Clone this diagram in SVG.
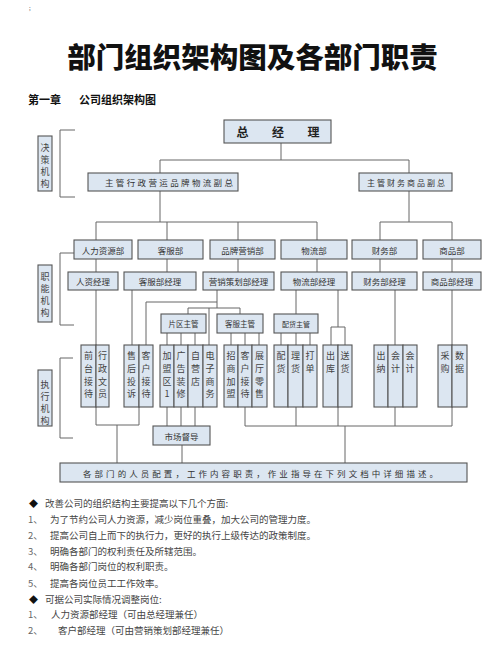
<svg xmlns="http://www.w3.org/2000/svg" width="500" height="652" viewBox="0 0 500 652">
<style>
text{font-family:"Noto Sans CJK SC","Noto Sans",sans-serif;}
.box{fill:#dce6f1;stroke:#555;stroke-width:1.1;}
.ln{fill:none;stroke:#666;stroke-width:1;}
.bt{font-size:8.5px;fill:#333;text-anchor:middle;dominant-baseline:central;}
.st{font-size:7.5px;fill:#333;text-anchor:middle;dominant-baseline:central;}
.vt{font-size:9px;fill:#444;text-anchor:middle;dominant-baseline:central;}
.lt{font-size:9.5px;fill:#444;dominant-baseline:central;}
.num{font-size:9.5px;fill:#666;dominant-baseline:central;}
.dia{font-size:9px;fill:#111;dominant-baseline:central;}
</style>
<rect width="500" height="652" fill="#fff"/>
<text x="29" y="10" font-size="6" fill="#555">;</text>
<text x="252.5" y="68" font-size="28.5" font-weight="900" fill="#111" text-anchor="middle">部门组织架构图及各部门职责</text>
<text x="28" y="104" font-size="11" font-weight="bold" fill="#111">第一章</text>
<text x="79" y="104" font-size="11" font-weight="bold" fill="#111">公司组织架构图</text>

<g id="connectors">
<path class="ln" d="M281 143V160M160 160H409M160 160V173M409 160V173"/>
<path class="ln" d="M160 191V222M96 222H317M96 222V240M167 222V240M238 222V240M317 222V240"/>
<path class="ln" d="M409 191V222M380 222H452M380 222V240M452 222V240"/>
<path class="ln" d="M96 259V272M167 259V272M238 259V272M317 259V272M380 259V272M452 259V272"/>
<path class="ln" d="M96 290V345M132 290V345"/>
<path class="ln" d="M217 290V308M217 302H146V345M188 308H240M188 308V314M240 308V314M209 308V345"/>
<path class="ln" d="M167 333V345M181 333V345M195 333V345M231 333V345M245 333V345M259 333V345"/>
<path class="ln" d="M296 290V315M338 290V327M331 327H345M331 327V345M345 327V345"/>
<path class="ln" d="M281 333V345M296 333V345M310 333V345M395 290V345M452 290V345"/>
<path class="ln" d="M96 407V425H139V407M117 425V463"/>
<path class="ln" d="M167 407V426M181 407V426M195 407V426M182 445V463"/>
<path class="ln" d="M245 407V426H452V407M296 407V426M338 407V426M395 407V426M345 426V463"/>
<path class="ln" d="M75 130H60V197H75M74 253H60V325H74M73 358H60V438H73"/>
</g>

<g id="label-juece"><rect class="box" x="38" y="136" width="14" height="55"/>
<text class="vt"><tspan x="45" y="147">决</tspan><tspan x="45" y="159">策</tspan><tspan x="45" y="171">机</tspan><tspan x="45" y="183">构</tspan></text></g>
<g id="label-zhineng"><rect class="box" x="38" y="265" width="14" height="57"/>
<text class="vt"><tspan x="45" y="276">职</tspan><tspan x="45" y="288">能</tspan><tspan x="45" y="300">机</tspan><tspan x="45" y="312">构</tspan></text></g>
<g id="label-zhixing"><rect class="box" x="38" y="370" width="14" height="56"/>
<text class="vt"><tspan x="45" y="384">执</tspan><tspan x="45" y="396">行</tspan><tspan x="45" y="408">机</tspan><tspan x="45" y="420">构</tspan></text></g>

<g id="gm"><rect class="box" x="224" y="120" width="107" height="23"/>
<text x="236.5" y="131.5" font-size="12" font-weight="bold" fill="#222" dominant-baseline="central" letter-spacing="23.5">总经理</text></g>
<g id="vp1"><rect class="box" x="88" y="173" width="150" height="18"/>
<text class="bt" x="105" y="182" style="text-anchor:start" textLength="128" lengthAdjust="spacing">主管行政营运品牌物流副总</text></g>
<g id="vp2"><rect class="box" x="359" y="173" width="93" height="18"/>
<text class="bt" x="367" y="182" style="text-anchor:start;font-size:8px" textLength="78" lengthAdjust="spacing">主管财务商品副总</text></g>

<g id="d-hr"><rect class="box" x="74" y="240" width="58" height="19"/><text class="bt" x="103" y="249.5">人力资源部</text></g>
<g id="d-cs"><rect class="box" x="138" y="240" width="65" height="19"/><text class="bt" x="170.5" y="249.5">客服部</text></g>
<g id="d-mk"><rect class="box" x="210" y="240" width="65" height="19"/><text class="bt" x="242.5" y="249.5">品牌营销部</text></g>
<g id="d-lg"><rect class="box" x="281" y="240" width="66" height="19"/><text class="bt" x="314" y="249.5">物流部</text></g>
<g id="d-fn"><rect class="box" x="352" y="240" width="65" height="19"/><text class="bt" x="384.5" y="249.5">财务部</text></g>
<g id="d-pd"><rect class="box" x="423" y="240" width="58" height="19"/><text class="bt" x="452" y="249.5">商品部</text></g>

<g id="m-hr"><rect class="box" x="68" y="272" width="50" height="18"/><text class="bt" x="93" y="281">人资经理</text></g>
<g id="m-cs"><rect class="box" x="124" y="272" width="72" height="18"/><text class="bt" x="160" y="281">客服部经理</text></g>
<g id="m-mk"><rect class="box" x="203" y="272" width="71" height="18"/><text class="bt" x="238.5" y="281">营销策划部经理</text></g>
<g id="m-lg"><rect class="box" x="281" y="272" width="66" height="18"/><text class="bt" x="314" y="281">物流部经理</text></g>
<g id="m-fn"><rect class="box" x="352" y="272" width="65" height="18"/><text class="bt" x="384.5" y="281">财务部经理</text></g>
<g id="m-pd"><rect class="box" x="423" y="272" width="58" height="18"/><text class="bt" x="452" y="281">商品部经理</text></g>

<g id="s-area"><rect class="box" x="161" y="314" width="45" height="19"/><text class="st" x="183.5" y="323.5">片区主管</text></g>
<g id="s-cs"><rect class="box" x="217" y="314" width="46" height="19"/><text class="st" x="240" y="323.5">客服主管</text></g>
<g id="s-dist"><rect class="box" x="274" y="314" width="44" height="19"/><text class="st" x="296" y="323.5" style="font-size:7px">配货主管</text></g>

<g id="e1"><rect class="box" x="81" y="345" width="15" height="62"/><text class="vt"><tspan x="88.5" y="355">前</tspan><tspan x="88.5" y="368">台</tspan><tspan x="88.5" y="381">接</tspan><tspan x="88.5" y="393">待</tspan></text></g>
<g id="e2"><rect class="box" x="96" y="345" width="13" height="62"/><text class="vt"><tspan x="102.5" y="355">行</tspan><tspan x="102.5" y="368">政</tspan><tspan x="102.5" y="381">文</tspan><tspan x="102.5" y="393">员</tspan></text></g>
<g id="e3"><rect class="box" x="124" y="345" width="15" height="62"/><text class="vt"><tspan x="131.5" y="355">售</tspan><tspan x="131.5" y="368">后</tspan><tspan x="131.5" y="381">投</tspan><tspan x="131.5" y="393">诉</tspan></text></g>
<g id="e4"><rect class="box" x="139" y="345" width="14" height="62"/><text class="vt"><tspan x="146" y="355">客</tspan><tspan x="146" y="368">户</tspan><tspan x="146" y="381">接</tspan><tspan x="146" y="393">待</tspan></text></g>
<g id="e5"><rect class="box" x="160" y="345" width="14" height="62"/><text class="vt"><tspan x="167" y="355">加</tspan><tspan x="167" y="368">盟</tspan><tspan x="167" y="381">区</tspan><tspan x="167" y="393">1</tspan></text></g>
<g id="e6"><rect class="box" x="174" y="345" width="14" height="62"/><text class="vt"><tspan x="181" y="355">广</tspan><tspan x="181" y="368">告</tspan><tspan x="181" y="381">装</tspan><tspan x="181" y="393">修</tspan></text></g>
<g id="e7"><rect class="box" x="188" y="345" width="15" height="62"/><text class="vt"><tspan x="195.5" y="355">自</tspan><tspan x="195.5" y="368">营</tspan><tspan x="195.5" y="381">店</tspan></text></g>
<g id="e8"><rect class="box" x="203" y="345" width="14" height="62"/><text class="vt"><tspan x="210" y="355">电</tspan><tspan x="210" y="368">子</tspan><tspan x="210" y="381">商</tspan><tspan x="210" y="393">务</tspan></text></g>
<g id="e9"><rect class="box" x="224" y="345" width="14" height="62"/><text class="vt"><tspan x="231" y="355">招</tspan><tspan x="231" y="368">商</tspan><tspan x="231" y="381">加</tspan><tspan x="231" y="393">盟</tspan></text></g>
<g id="e10"><rect class="box" x="238" y="345" width="14" height="62"/><text class="vt"><tspan x="245" y="355">客</tspan><tspan x="245" y="368">户</tspan><tspan x="245" y="381">接</tspan><tspan x="245" y="393">待</tspan></text></g>
<g id="e11"><rect class="box" x="252" y="345" width="15" height="62"/><text class="vt"><tspan x="259.5" y="355">展</tspan><tspan x="259.5" y="368">厅</tspan><tspan x="259.5" y="381">零</tspan><tspan x="259.5" y="393">售</tspan></text></g>
<g id="e12"><rect class="box" x="274" y="345" width="14" height="62"/><text class="vt"><tspan x="281" y="355">配</tspan><tspan x="281" y="368">货</tspan></text></g>
<g id="e13"><rect class="box" x="288" y="345" width="15" height="62"/><text class="vt"><tspan x="295.5" y="355">理</tspan><tspan x="295.5" y="368">货</tspan></text></g>
<g id="e14"><rect class="box" x="303" y="345" width="14" height="62"/><text class="vt"><tspan x="310" y="355">打</tspan><tspan x="310" y="368">单</tspan></text></g>
<g id="e15"><rect class="box" x="323" y="345" width="15" height="62"/><text class="vt"><tspan x="330.5" y="355">出</tspan><tspan x="330.5" y="368">库</tspan></text></g>
<g id="e16"><rect class="box" x="338" y="345" width="14" height="62"/><text class="vt"><tspan x="345" y="355">送</tspan><tspan x="345" y="368">货</tspan></text></g>
<g id="e17"><rect class="box" x="374" y="345" width="14" height="62"/><text class="vt"><tspan x="381" y="355">出</tspan><tspan x="381" y="368">纳</tspan></text></g>
<g id="e18"><rect class="box" x="388" y="345" width="15" height="62"/><text class="vt"><tspan x="395.5" y="355">会</tspan><tspan x="395.5" y="368">计</tspan></text></g>
<g id="e19"><rect class="box" x="403" y="345" width="14" height="62"/><text class="vt"><tspan x="410" y="355">会</tspan><tspan x="410" y="368">计</tspan></text></g>
<g id="e20"><rect class="box" x="438" y="345" width="14" height="62"/><text class="vt"><tspan x="445" y="355">采</tspan><tspan x="445" y="368">购</tspan></text></g>
<g id="e21"><rect class="box" x="452" y="345" width="15" height="62"/><text class="vt"><tspan x="459.5" y="355">数</tspan><tspan x="459.5" y="368">据</tspan></text></g>

<g id="supervise"><rect class="box" x="153" y="426" width="57" height="19"/><text class="bt" x="181.5" y="435.5">市场督导</text></g>
<g id="note"><rect class="box" x="60" y="463" width="407" height="19"/>
<text class="bt" x="83" y="472.5" style="text-anchor:start" textLength="355" lengthAdjust="spacing">各部门的人员配置，工作内容职责，作业指导在下列文档中详细描述。</text></g>

<g id="text-list">
<text class="dia" x="29" y="503">◆</text><text class="lt" x="45" y="503">改善公司的组织结构主要提高以下几个方面:</text>
<text class="num" x="28" y="519">1、</text><text class="lt" x="50" y="519">为了节约公司人力资源，减少岗位重叠，加大公司的管理力度。</text>
<text class="num" x="28" y="535">2、</text><text class="lt" x="50" y="535">提高公司自上而下的执行力，更好的执行上级传达的政策制度。</text>
<text class="num" x="28" y="551">3、</text><text class="lt" x="50" y="551">明确各部门的权利责任及所辖范围。</text>
<text class="num" x="28" y="566">4、</text><text class="lt" x="50" y="566">明确各部门岗位的权利职责。</text>
<text class="num" x="28" y="583">5、</text><text class="lt" x="50" y="583">提高各岗位员工工作效率。</text>
<text class="dia" x="29" y="599">◆</text><text class="lt" x="45" y="599">可据公司实际情况调整岗位:</text>
<text class="num" x="28" y="614">1、</text><text class="lt" x="51" y="614">人力资源部经理（可由总经理兼任）</text>
<text class="num" x="28" y="630">2、</text><text class="lt" x="58" y="630">客户部经理（可由营销策划部经理兼任）</text>
</g>
</svg>
